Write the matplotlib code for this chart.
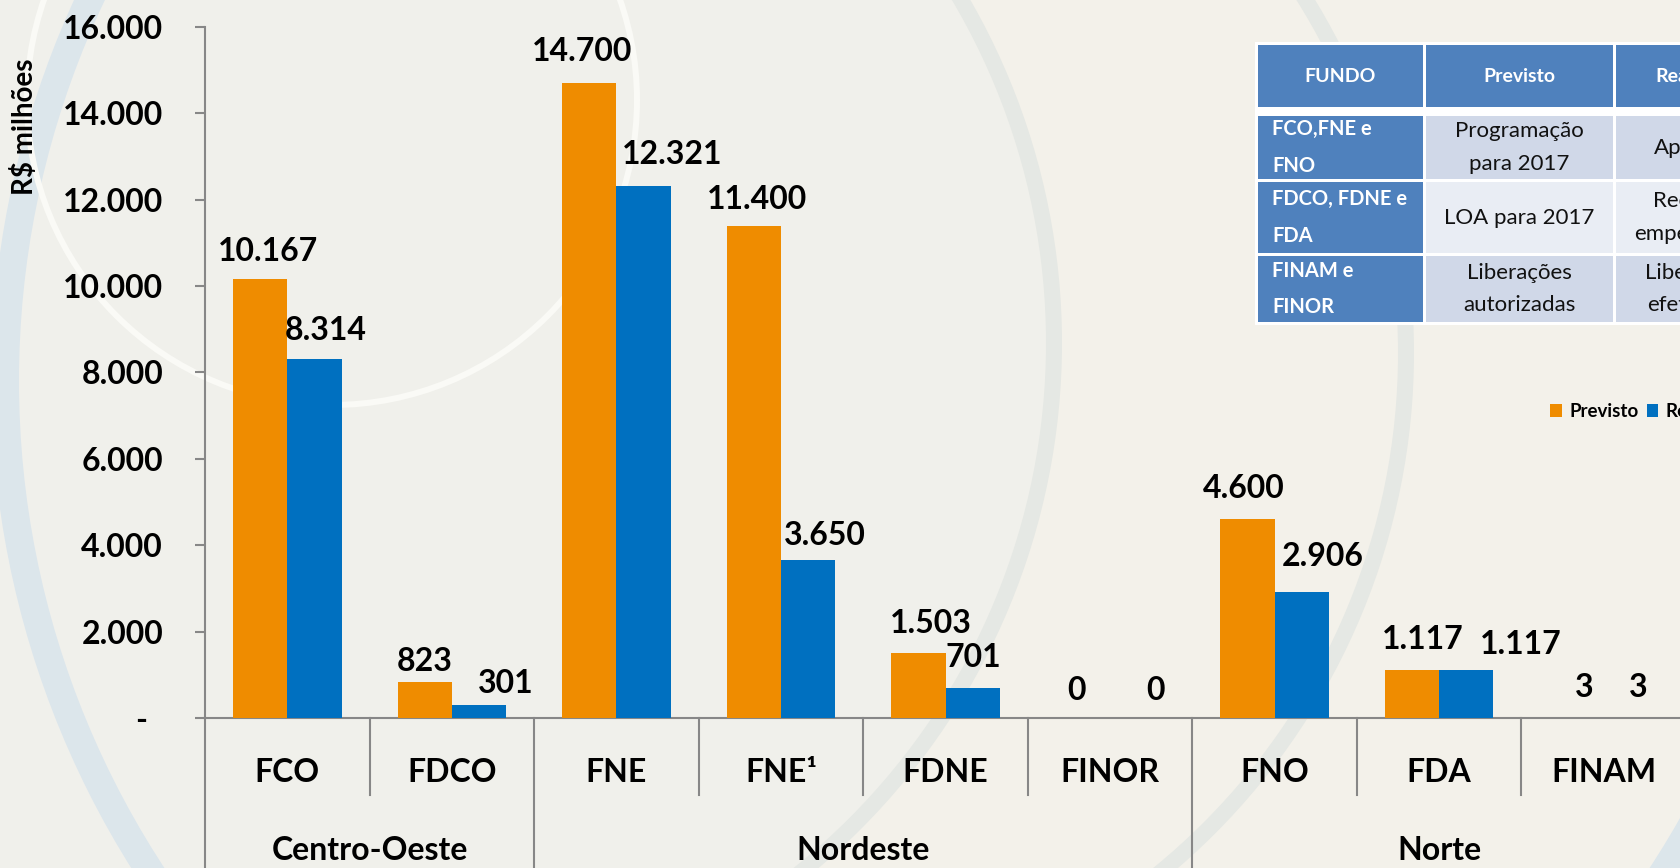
import matplotlib
matplotlib.use('Agg')
import matplotlib.pyplot as plt
from matplotlib.patches import Circle, Rectangle, Arc

# ---------------- data ----------------
categories = ['FCO', 'FDCO', 'FNE', 'FNE¹', 'FDNE', 'FINOR', 'FNO', 'FDA', 'FINAM']
groups = ['Centro-Oeste', 'Nordeste', 'Norte']
group_sizes = [2, 4, 3]
previsto = [10167, 823, 14700, 11400, 1503, 0, 4600, 1117, 3]
realizado = [8314, 301, 12321, 3650, 701, 0, 2906, 1117, 3]
series_names = ['Previsto', 'Realizado']
yticks = [0, 2000, 4000, 6000, 8000, 10000, 12000, 14000, 16000]
ylabel = 'R$ milhões'

table_header = ['FUNDO', 'Previsto', 'Realizado']
table_col1 = ['FCO,FNE e\nFNO', 'FDCO, FDNE e\nFDA', 'FINAM e\nFINOR']
table_col2 = ['Programação\npara 2017', 'LOA para 2017', 'Liberações\nautorizadas']
table_col3 = ['Aplicado', 'Recursos\nempenhados', 'Liberações\nefetivadas']

# label offsets (pixels: dx, dy above bar top)
prev_off = [(8, 27), (0, 21), (-7, 32), (3, 26), (12, 30), (-6, 27), (-4, 31), (11, 30), (8, 30)]
real_off = [(11, 28), (27, 22), (29, 31), (17, 25), (1, 30), (18, 27), (21, 36), (54, 25), (7, 30)]

# ---------------- style ----------------
BG = '#F3F1EA'
ORANGE = '#EF8C00'
BLUE = '#0070C0'
GRAY = '#878787'
TBL_DARK = '#4F81BD'
TBL_L1 = '#D0D8E8'
TBL_L2 = '#E9EDF4'
FONT = 'Lato'
W, H = 1680, 868

fig = plt.figure(figsize=(W / 100, H / 100), dpi=100)
fig.patch.set_facecolor(BG)

# background decoration (pixel coordinates)
bg = fig.add_axes([0, 0, 1, 1], zorder=0)
bg.set_xlim(0, W)
bg.set_ylim(H, 0)
bg.axis('off')
bg.add_patch(Circle((374, 343), 680, facecolor='#F0F0EB', edgecolor='none'))
bg.add_patch(Circle((907, 381), 902, fill=False, edgecolor='#DCE6EB', lw=28 * 0.72))
bg.add_patch(Circle((374, 343), 680, fill=False, edgecolor='#E5E8E4', lw=16 * 0.72))
bg.add_patch(Arc((734, 353), 2 * 672, 2 * 672, theta1=-90, theta2=90,
                 edgecolor='#E5E8E4', lw=16 * 0.72))
bg.add_patch(Circle((332, 100), 305, fill=False, edgecolor='#FAFAF6', lw=6 * 0.72))

# main axes
ax = fig.add_axes([205 / W, (H - 718) / H, 1481 / W, 691 / H], zorder=2)
ax.patch.set_alpha(0)
n = len(categories)
ax.set_xlim(0, n)
ax.set_ylim(0, 16000)
bw = 0.33
xs = [i + 0.5 for i in range(n)]
b1 = ax.bar([x - bw / 2 for x in xs], previsto, width=bw, color=ORANGE, zorder=3)
b2 = ax.bar([x + bw / 2 for x in xs], realizado, width=bw, color=BLUE, zorder=3)

for sp in ['top', 'right']:
    ax.spines[sp].set_visible(False)
for sp in ['left', 'bottom']:
    ax.spines[sp].set_color(GRAY)
    ax.spines[sp].set_linewidth(1.5)

def fmt(v):
    return f'{v:,}'.replace(',', '.')

ax.set_yticks(yticks)
ax.set_yticklabels(['-  ' if v == 0 else fmt(v) for v in yticks],
                   fontfamily=FONT, fontweight='bold', fontsize=23)
ax.tick_params(axis='y', length=7.2, width=1.5, color=GRAY, pad=23)
ax.set_xticks([])

# value labels
for i, x in enumerate(xs):
    dx, dy = prev_off[i]
    ax.annotate(fmt(previsto[i]), xy=(x - bw / 2, previsto[i]), xytext=(dx * 0.72, dy * 0.72),
                textcoords='offset points', ha='center', va='center',
                fontfamily=FONT, fontweight='bold', fontsize=23, zorder=5)
    dx, dy = real_off[i]
    ax.annotate(fmt(realizado[i]), xy=(x + bw / 2, realizado[i]), xytext=(dx * 0.72, dy * 0.72),
                textcoords='offset points', ha='center', va='center',
                fontfamily=FONT, fontweight='bold', fontsize=23, zorder=5)

# category axis with separators
tr = ax.get_xaxis_transform()
ax_h = 691.0
group_bounds = [0]
for s in group_sizes:
    group_bounds.append(group_bounds[-1] + s)
for b in range(n + 1):
    y_end = -0.3 if b in group_bounds else -77 / ax_h
    ax.plot([b, b], [0, y_end], transform=tr, color=GRAY, lw=1.5, clip_on=False, zorder=1)
for i, x in enumerate(xs):
    ax.text(x, -(773 - 718) / ax_h, categories[i], transform=tr, ha='center', va='center',
            fontfamily=FONT, fontweight='bold', fontsize=23)
for g, name in enumerate(groups):
    cx = (group_bounds[g] + group_bounds[g + 1]) / 2
    ax.text(cx, -(850 - 718) / ax_h, name, transform=tr, ha='center', va='center',
            fontfamily=FONT, fontweight='bold', fontsize=23)

# y label
bg.text(25, 127, ylabel, rotation=90, ha='center', va='center',
        fontfamily=FONT, fontweight='bold', fontsize=20)

# legend
ax.legend(handles=[b1, b2], labels=series_names, loc='upper left',
          bbox_to_anchor=(1550 / W, 1 - 403 / H), bbox_transform=fig.transFigure,
          ncol=2, frameon=False, prop=dict(family=FONT, weight='bold', size=13.5),
          handlelength=0.62, handleheight=0.68, handletextpad=0.4,
          columnspacing=0.45, borderaxespad=0, borderpad=0)

# table (pixel coordinates)
tb = fig.add_axes([0, 0, 1, 1], zorder=4)
tb.set_xlim(0, W)
tb.set_ylim(H, 0)
tb.axis('off')
col_edges = [(1258, 1423), (1426, 1613), (1616, 1778)]
row_edges = [(45, 107), (116, 179), (182, 253), (256, 322)]
tb.add_patch(Rectangle((1255, 42), 600, 283, facecolor='white', edgecolor='none'))
for c, (x0, x1) in enumerate(col_edges):
    y0, y1 = row_edges[0]
    tb.add_patch(Rectangle((x0, y0), x1 - x0, y1 - y0, facecolor=TBL_DARK, edgecolor='none'))
    tb.text((x0 + x1) / 2, (y0 + y1) / 2, table_header[c], ha='center', va='center',
            color='white', fontfamily=FONT, fontweight='bold', fontsize=14)
body_cols = [table_col1, table_col2, table_col3]
for r in range(3):
    y0, y1 = row_edges[r + 1]
    light = TBL_L2 if r == 1 else TBL_L1
    for c, (x0, x1) in enumerate(col_edges):
        fc = TBL_DARK if c == 0 else light
        tb.add_patch(Rectangle((x0, y0), x1 - x0, y1 - y0, facecolor=fc, edgecolor='none'))
        txt = body_cols[c][r]
        if c == 0:
            tb.text(x0 + 14, (y0 + y1) / 2, txt, ha='left', va='center', color='white',
                    fontfamily=FONT, fontweight='bold', fontsize=14.5, linespacing=2.05)
        else:
            tb.text((x0 + x1) / 2, (y0 + y1) / 2, txt, ha='center', va='center',
                    color='#111111', fontfamily=FONT, fontsize=16, linespacing=1.8,
                    multialignment='center')

fig.savefig('out.png', dpi=100, facecolor=BG)
